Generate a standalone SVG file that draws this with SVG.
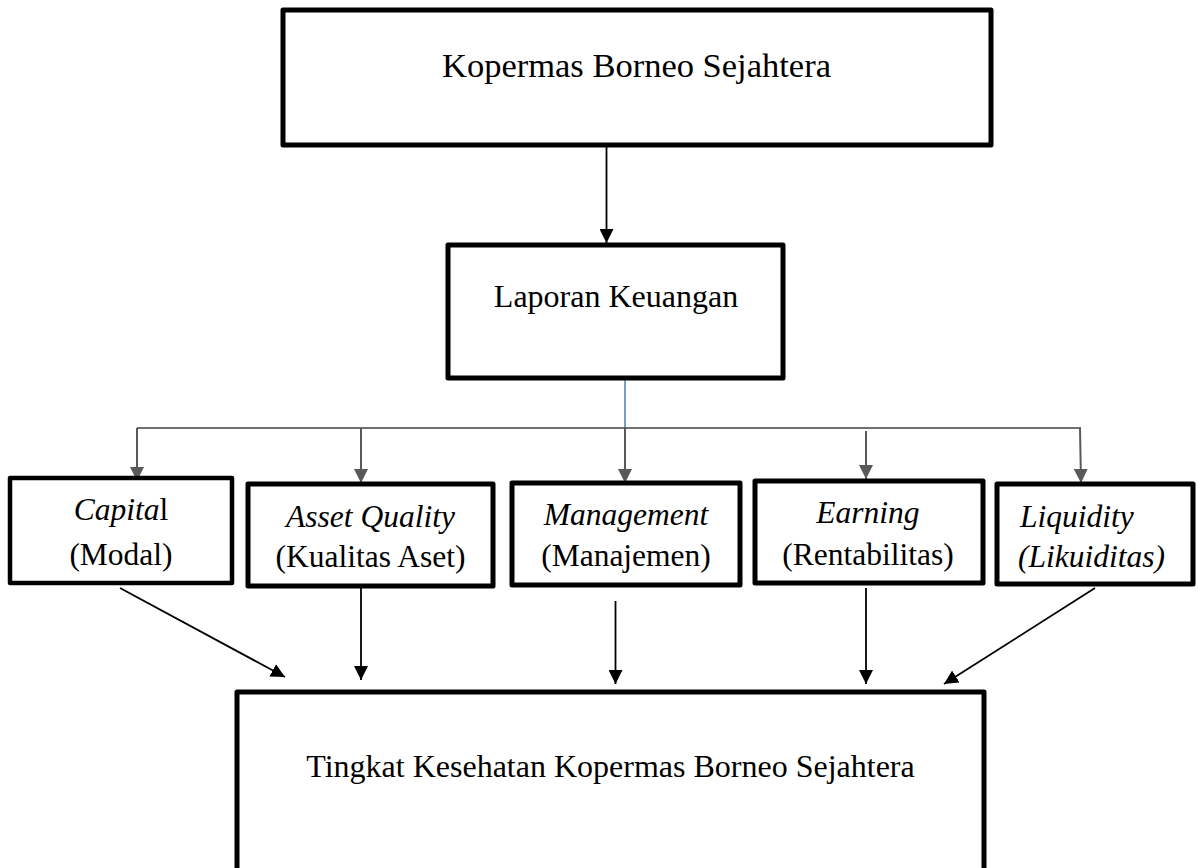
<svg xmlns="http://www.w3.org/2000/svg" width="1198" height="868" viewBox="0 0 1198 868">
  <defs>
    <style>
      .box { fill: #ffffff; stroke: #000000; stroke-width: 5; stroke-linejoin: round; }
      .t { font-family: "Liberation Serif", "Times New Roman", serif; font-size: 31.5px; fill: #000000; }
      .i { font-style: italic; }
      .n { font-style: normal; }
      .blk { stroke: #000000; stroke-width: 1.8; fill: none; }
      .gry { stroke: #595959; stroke-width: 2; fill: none; }
      .hline { stroke: #404040; stroke-width: 1.5; fill: none; }
      .blue { stroke: #4a7ebb; stroke-width: 1.5; fill: none; }
    </style>
    <marker id="ab" viewBox="0 0 10 10" refX="10" refY="5" markerWidth="14" markerHeight="14" markerUnits="userSpaceOnUse" orient="auto">
      <path d="M0,0 L10,5 L0,10 z" fill="#000000"/>
    </marker>
    <marker id="ag" viewBox="0 0 10 10" refX="10" refY="5" markerWidth="14" markerHeight="14" markerUnits="userSpaceOnUse" orient="auto">
      <path d="M0,0 L10,5 L0,10 z" fill="#595959"/>
    </marker>
  </defs>

  <g id="connectors">
    <line class="blk" x1="606.5" y1="147" x2="606.5" y2="243" marker-end="url(#ab)"/>
    <line class="blue" x1="625" y1="380" x2="625" y2="428"/>
    <line class="hline" x1="137" y1="428" x2="1081" y2="428"/>
    <line class="gry" x1="137" y1="428" x2="137" y2="481" marker-end="url(#ag)"/>
    <line class="gry" x1="361" y1="428" x2="361" y2="483" marker-end="url(#ag)"/>
    <line class="gry" x1="625" y1="428" x2="625" y2="483" marker-end="url(#ag)"/>
    <line class="gry" x1="866" y1="431" x2="866" y2="479" marker-end="url(#ag)"/>
    <line class="gry" x1="1080" y1="428" x2="1081" y2="483" marker-end="url(#ag)"/>
    <line class="blk" x1="120" y1="588" x2="285" y2="677" marker-end="url(#ab)"/>
    <line class="blk" x1="361" y1="588" x2="361" y2="680" marker-end="url(#ab)"/>
    <line class="blk" x1="615.5" y1="601" x2="615.5" y2="684" marker-end="url(#ab)"/>
    <line class="blk" x1="866" y1="588" x2="866" y2="684" marker-end="url(#ab)"/>
    <line class="blk" x1="1095" y1="588" x2="944" y2="684" marker-end="url(#ab)"/>
  </g>

  <g id="kopermas">
    <rect class="box" x="283" y="10" width="708" height="135"/>
    <text class="t" x="442" y="77" style="font-size:34.5px">Kopermas Borneo Sejahtera</text>
  </g>

  <g id="laporan">
    <rect class="box" x="448" y="245" width="335" height="133"/>
    <text class="t" x="616" y="307" text-anchor="middle" style="font-size:32px">Laporan Keuangan</text>
  </g>

  <g id="capital">
    <rect class="box" x="10" y="478" width="222" height="105" style="stroke-width:4.5"/>
    <text class="t" x="121" y="520" text-anchor="middle"><tspan class="i">Capita</tspan><tspan class="n">l</tspan></text>
    <text class="t" x="121" y="565" text-anchor="middle">(Modal)</text>
  </g>

  <g id="asset">
    <rect class="box" x="248" y="484" width="245" height="102"/>
    <text class="t i" x="370.5" y="527" text-anchor="middle">Asset Quality</text>
    <text class="t" x="370.5" y="567" text-anchor="middle">(Kualitas Aset)</text>
  </g>

  <g id="management">
    <rect class="box" x="512" y="483" width="228" height="102"/>
    <text class="t i" x="626" y="525" text-anchor="middle">Management</text>
    <text class="t" x="626" y="566" text-anchor="middle">(Manajemen)</text>
  </g>

  <g id="earning">
    <rect class="box" x="755" y="481" width="228" height="102"/>
    <text class="t i" x="868" y="523" text-anchor="middle">Earning</text>
    <text class="t" x="868" y="565" text-anchor="middle">(Rentabilitas)</text>
  </g>

  <g id="liquidity">
    <rect class="box" x="997" y="484" width="196" height="100"/>
    <text class="t i" x="1020" y="527">Liquidity</text>
    <text class="t i" x="1018" y="567">(Likuiditas)</text>
  </g>

  <g id="tingkat">
    <rect class="box" x="237" y="692" width="747" height="220"/>
    <text class="t" x="610.5" y="777" text-anchor="middle" style="font-size:32px">Tingkat Kesehatan Kopermas Borneo Sejahtera</text>
  </g>
</svg>
